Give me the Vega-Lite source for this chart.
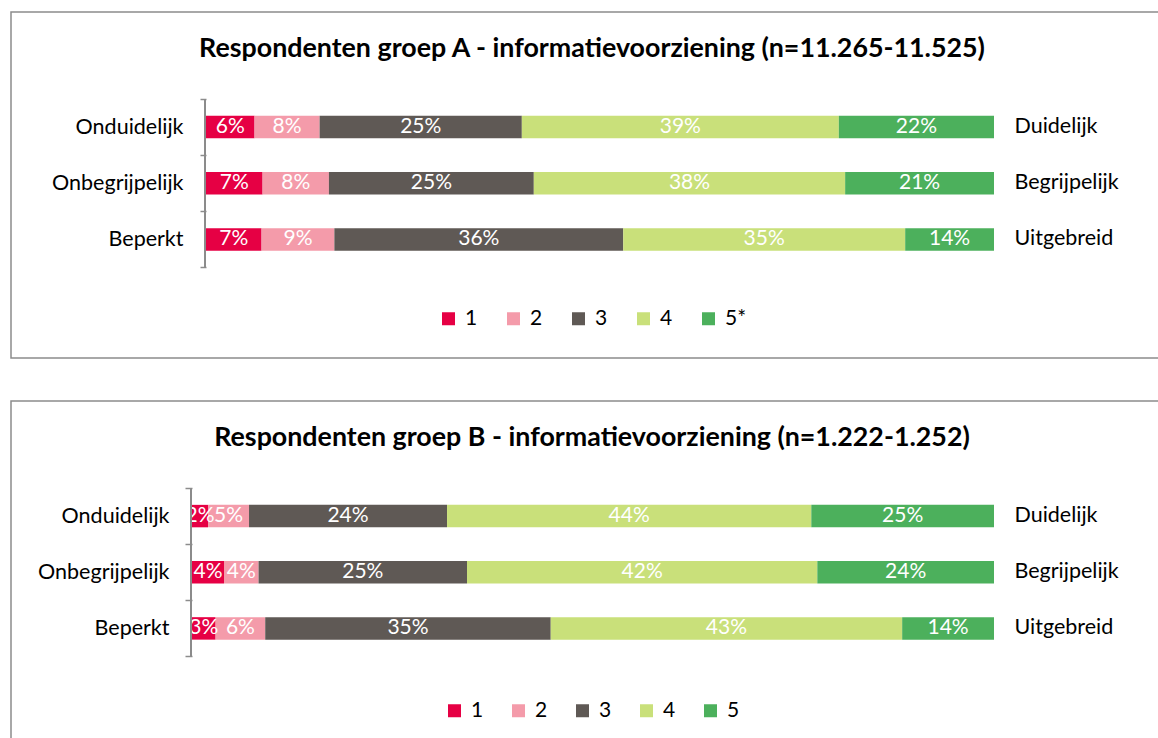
{
  "$schema": "https://vega.github.io/schema/vega-lite/v6.json",
  "padding": {"left": 10, "top": 0, "right": 0, "bottom": 0},
  "background": "white",
  "config": {
    "font": "Lato",
    "view": {"stroke": "#8c8c8c", "strokeWidth": 1.5},
    "axis": {"labelColor": "black", "labelFont": "Lato", "grid": false}
  },
  "datasets": {
    "a": [
      {"left": "Onduidelijk", "right": "Duidelijk", "cat": "1", "v": 6.16, "label": "6%"},
      {"left": "Onduidelijk", "right": "Duidelijk", "cat": "2", "v": 8.26, "label": "8%"},
      {"left": "Onduidelijk", "right": "Duidelijk", "cat": "3", "v": 25.66, "label": "25%"},
      {"left": "Onduidelijk", "right": "Duidelijk", "cat": "4", "v": 40.23, "label": "39%"},
      {"left": "Onduidelijk", "right": "Duidelijk", "cat": "5*", "v": 19.69, "label": "22%"},
      {"left": "Onbegrijpelijk", "right": "Begrijpelijk", "cat": "1", "v": 7.18, "label": "7%"},
      {"left": "Onbegrijpelijk", "right": "Begrijpelijk", "cat": "2", "v": 8.42, "label": "8%"},
      {"left": "Onbegrijpelijk", "right": "Begrijpelijk", "cat": "3", "v": 26.0, "label": "25%"},
      {"left": "Onbegrijpelijk", "right": "Begrijpelijk", "cat": "4", "v": 39.51, "label": "38%"},
      {"left": "Onbegrijpelijk", "right": "Begrijpelijk", "cat": "5*", "v": 18.89, "label": "21%"},
      {"left": "Beperkt", "right": "Uitgebreid", "cat": "1", "v": 7.05, "label": "7%"},
      {"left": "Beperkt", "right": "Uitgebreid", "cat": "2", "v": 9.24, "label": "9%"},
      {"left": "Beperkt", "right": "Uitgebreid", "cat": "3", "v": 36.66, "label": "36%"},
      {"left": "Beperkt", "right": "Uitgebreid", "cat": "4", "v": 35.78, "label": "35%"},
      {"left": "Beperkt", "right": "Uitgebreid", "cat": "5*", "v": 11.27, "label": "14%"}
    ],
    "b": [
      {"left": "Onduidelijk", "right": "Duidelijk", "cat": "1", "v": 2.0, "label": "2%"},
      {"left": "Onduidelijk", "right": "Duidelijk", "cat": "2", "v": 5.11, "label": "5%"},
      {"left": "Onduidelijk", "right": "Duidelijk", "cat": "3", "v": 24.69, "label": "24%"},
      {"left": "Onduidelijk", "right": "Duidelijk", "cat": "4", "v": 45.42, "label": "44%"},
      {"left": "Onduidelijk", "right": "Duidelijk", "cat": "5", "v": 22.78, "label": "25%"},
      {"left": "Onbegrijpelijk", "right": "Begrijpelijk", "cat": "1", "v": 3.99, "label": "4%"},
      {"left": "Onbegrijpelijk", "right": "Begrijpelijk", "cat": "2", "v": 4.31, "label": "4%"},
      {"left": "Onbegrijpelijk", "right": "Begrijpelijk", "cat": "3", "v": 25.99, "label": "25%"},
      {"left": "Onbegrijpelijk", "right": "Begrijpelijk", "cat": "4", "v": 43.68, "label": "42%"},
      {"left": "Onbegrijpelijk", "right": "Begrijpelijk", "cat": "5", "v": 22.03, "label": "24%"},
      {"left": "Beperkt", "right": "Uitgebreid", "cat": "1", "v": 2.94, "label": "3%"},
      {"left": "Beperkt", "right": "Uitgebreid", "cat": "2", "v": 6.19, "label": "6%"},
      {"left": "Beperkt", "right": "Uitgebreid", "cat": "3", "v": 35.6, "label": "35%"},
      {"left": "Beperkt", "right": "Uitgebreid", "cat": "4", "v": 43.82, "label": "43%"},
      {"left": "Beperkt", "right": "Uitgebreid", "cat": "5", "v": 11.45, "label": "14%"}
    ]
  },
  "spacing": 30,
  "resolve": {"scale": {"color": "independent"}, "legend": {"color": "independent"}},
  "vconcat": [
    {
      "width": 1152,
      "height": 346,
      "data": {"name": "a"},
      "title": {"text": "Respondenten groep A - informatievoorziening (n=11.265-11.525)", "fontSize": 26.8, "fontWeight": "bold", "color": "black", "font": "Lato", "offset": -62, "anchor": "middle", "dx": 5},
      "layer": [
        {
          "layer": [
            {
              "mark": {"type": "bar", "height": {"band": 0.4}},
              "encoding": {
                "y": {"field": "left", "type": "nominal",
                  "scale": {"type": "band", "domain": ["Onduidelijk", "Onbegrijpelijk", "Beperkt"], "paddingInner": 0, "paddingOuter": 0, "range": [87, 255.5]},
                  "axis": {"title": null, "offset": -195, "domain": false, "ticks": true, "tickBand": "extent", "tickSize": 6, "tickColor": "#8c8c8c", "tickWidth": 1.5, "labelPadding": 17, "labelFontSize": 21.5}},
                "x": {"field": "v", "type": "quantitative", "stack": "normalize", "scale": {"domain": [-0.24746, 1.21447], "nice": false, "zero": false}, "axis": null},
                "color": {"field": "cat", "type": "nominal",
                  "scale": {"domain": ["1", "2", "3", "4", "5*"], "range": ["#E60044", "#F49BAA", "#5F5955", "#C9E07A", "#4CB05C"]},
                  "legend": {"orient": "none", "legendX": 427, "legendY": 296, "direction": "horizontal", "title": null, "symbolType": "square", "symbolSize": 169, "symbolStrokeWidth": 0, "labelFontSize": 21, "labelColor": "black", "labelFont": "Lato", "columnPadding": 16, "gridAlign": "all", "labelOffset": 6, "padding": 0}},
                "order": {"field": "cat"}
              }
            },
            {
              "mark": {"type": "text", "color": "white", "fontSize": 21, "align": "center", "baseline": "middle"},
              "encoding": {
                "y": {"field": "left", "type": "nominal", "scale": {"type": "band"}},
                "x": {"field": "v", "type": "quantitative", "stack": "normalize", "bandPosition": 0.5},
                "detail": {"field": "cat"},
                "order": {"field": "cat"},
                "text": {"field": "label"}
              }
            },
            {
              "mark": {"type": "bar", "color": "#8c8c8c", "height": {"band": 1}},
              "encoding": {
                "y": {"field": "left", "type": "nominal", "scale": {"type": "band"}},
                "x": {"datum": -0.0022, "type": "quantitative"},
                "x2": {"datum": -0.0003}
              }
            }
          ]
        },
        {
          "mark": {"type": "bar", "opacity": 0},
          "encoding": {
            "y": {"field": "right", "type": "nominal",
              "scale": {"type": "band", "domain": ["Duidelijk", "Begrijpelijk", "Uitgebreid"], "paddingInner": 0, "paddingOuter": 0, "range": [87, 255.5]},
              "axis": {"orient": "right", "title": null, "offset": -149, "domain": false, "ticks": false, "labelPadding": 0, "labelFontSize": 21.5}},
            "x": {"datum": 0.4, "type": "quantitative"},
            "x2": {"datum": 0.5}
          }
        }
      ],
      "resolve": {"scale": {"y": "independent"}, "axis": {"y": "independent"}}
    },
    {
      "width": 1152,
      "height": 346,
      "data": {"name": "b"},
      "title": {"text": "Respondenten groep B - informatievoorziening (n=1.222-1.252)", "fontSize": 26.8, "fontWeight": "bold", "color": "black", "font": "Lato", "offset": -62, "anchor": "middle", "dx": 5},
      "layer": [
        {
          "layer": [
            {
              "mark": {"type": "bar", "height": {"band": 0.4}},
              "encoding": {
                "y": {"field": "left", "type": "nominal",
                  "scale": {"type": "band", "domain": ["Onduidelijk", "Onbegrijpelijk", "Beperkt"], "paddingInner": 0, "paddingOuter": 0, "range": [87, 255.5]},
                  "axis": {"title": null, "offset": -181, "domain": false, "ticks": true, "tickBand": "extent", "tickSize": 7, "tickColor": "#8c8c8c", "tickWidth": 1.5, "labelPadding": 16, "labelFontSize": 21.5}},
                "x": {"field": "v", "type": "quantitative", "stack": "normalize", "scale": {"domain": [-0.22569, 1.21072], "nice": false, "zero": false}, "axis": null},
                "color": {"field": "cat", "type": "nominal",
                  "scale": {"domain": ["1", "2", "3", "4", "5"], "range": ["#E60044", "#F49BAA", "#5F5955", "#C9E07A", "#4CB05C"]},
                  "legend": {"orient": "none", "legendX": 433, "legendY": 299, "direction": "horizontal", "title": null, "symbolType": "square", "symbolSize": 169, "symbolStrokeWidth": 0, "labelFontSize": 21, "labelColor": "black", "labelFont": "Lato", "columnPadding": 24, "gridAlign": "all", "labelOffset": 6, "padding": 0}},
                "order": {"field": "cat"}
              }
            },
            {
              "mark": {"type": "text", "color": "white", "fontSize": 21, "align": "center", "baseline": "middle"},
              "encoding": {
                "y": {"field": "left", "type": "nominal", "scale": {"type": "band"}},
                "x": {"field": "v", "type": "quantitative", "stack": "normalize", "bandPosition": 0.5},
                "detail": {"field": "cat"},
                "order": {"field": "cat"},
                "text": {"field": "label"}
              }
            },
            {
              "mark": {"type": "bar", "color": "#8c8c8c", "height": {"band": 1}},
              "encoding": {
                "y": {"field": "left", "type": "nominal", "scale": {"type": "band"}},
                "x": {"datum": -0.0022, "type": "quantitative"},
                "x2": {"datum": -0.0003}
              }
            }
          ]
        },
        {
          "mark": {"type": "bar", "opacity": 0},
          "encoding": {
            "y": {"field": "right", "type": "nominal",
              "scale": {"type": "band", "domain": ["Duidelijk", "Begrijpelijk", "Uitgebreid"], "paddingInner": 0, "paddingOuter": 0, "range": [87, 255.5]},
              "axis": {"orient": "right", "title": null, "offset": -149, "domain": false, "ticks": false, "labelPadding": 0, "labelFontSize": 21.5}},
            "x": {"datum": 0.4, "type": "quantitative"},
            "x2": {"datum": 0.5}
          }
        }
      ],
      "resolve": {"scale": {"y": "independent"}, "axis": {"y": "independent"}}
    }
  ]
}
